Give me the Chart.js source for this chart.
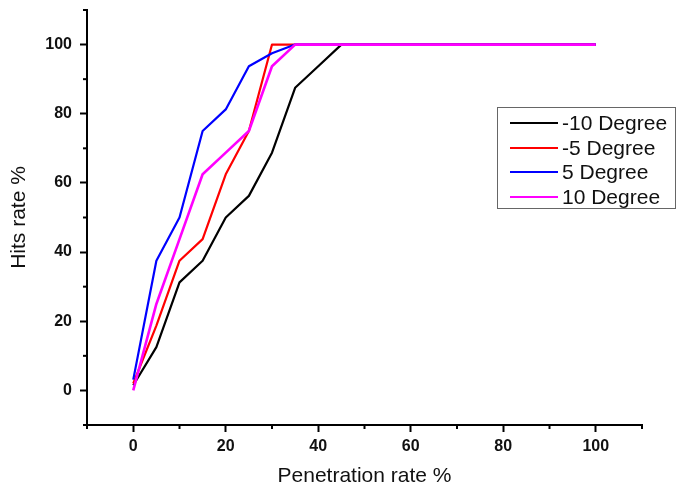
<!DOCTYPE html>
<html>
<head>
<meta charset="utf-8">
<script src="https://cdn.jsdelivr.net/npm/chart.js@4.4.1/dist/chart.umd.min.js"></script>
<style>
  html, body { margin: 0; padding: 0; background: #fff; }
  #wrap { width: 677px; height: 493px; }
</style>
</head>
<body>
<div id="wrap"><canvas id="hitsChart" width="677" height="493"></canvas></div>
<script>
var penetrationRate = [0,5,10,15,20,25,30,35,40,45,50,55,60,65,70,75,80,85,90,95,100];

var hitsMinus10 = [1.5, 12.5, 31.25, 37.5, 50, 56.25, 68.75, 87.5, 93.75, 100, 100, 100, 100, 100, 100, 100, 100, 100, 100, 100, 100];
var hitsMinus5  = [2, 18.75, 37.5, 43.75, 62.5, 75, 100, 100, 100, 100, 100, 100, 100, 100, 100, 100, 100, 100, 100, 100, 100];
var hitsPlus5   = [3.125, 37.5, 50, 75, 81.25, 93.75, 97.5, 100, 100, 100, 100, 100, 100, 100, 100, 100, 100, 100, 100, 100, 100];
var hitsPlus10  = [0, 25, 43.75, 62.5, 68.75, 75, 93.75, 100, 100, 100, 100, 100, 100, 100, 100, 100, 100, 100, 100, 100, 100];

var seriesLabels = ['-10 Degree', '-5 Degree', '5 Degree', '10 Degree'];
var seriesColors = ['#000000', '#ff0000', '#0000ff', '#ff00ff'];
var seriesValues = [hitsMinus10, hitsMinus5, hitsPlus5, hitsPlus10];

// x axis labels at 0..100 every 20, y axis the same
var labelledTicks = [0, 20, 40, 60, 80, 100];

function toPoints(values) {
  return values.map(function (v, i) { return { x: penetrationRate[i], y: v }; });
}

var datasets = seriesValues.map(function (vals, i) {
  return {
    label: seriesLabels[i],
    data: toPoints(vals),
    borderColor: seriesColors[i],
    backgroundColor: seriesColors[i],
    borderWidth: i === seriesValues.length - 1 ? 2.6 : 2.2,
    pointRadius: 0,
    tension: 0,
    fill: false,
    borderJoinStyle: 'round',
    order: seriesValues.length - i   // last series drawn on top
  };
});

function isMajor(v) { return labelledTicks.indexOf(v) !== -1; }

// short minor ticks, drawn through the scales
var minorTicks = {
  id: 'minorTicks',
  afterDraw: function (chart) {
    var ctx = chart.ctx;
    var xs = chart.scales.x, ys = chart.scales.y;
    ctx.save();
    ctx.strokeStyle = '#000';
    ctx.lineWidth = 2;
    xs.ticks.forEach(function (t) {
      if (isMajor(t.value)) return;
      var px = xs.getPixelForValue(t.value);
      ctx.beginPath();
      ctx.moveTo(px, xs.top);
      ctx.lineTo(px, xs.top + 4);
      ctx.stroke();
    });
    ys.ticks.forEach(function (t) {
      if (isMajor(t.value)) return;
      var py = ys.getPixelForValue(t.value);
      ctx.beginPath();
      ctx.moveTo(ys.right, py);
      ctx.lineTo(ys.right - 4, py);
      ctx.stroke();
    });
    ctx.restore();
  }
};

// boxed legend at the right, like the original
var boxLegend = {
  id: 'boxLegend',
  afterDraw: function (chart) {
    var ctx = chart.ctx;
    ctx.save();
    ctx.strokeStyle = '#666';
    ctx.lineWidth = 1;
    ctx.fillStyle = '#fff';
    ctx.fillRect(497, 107, 178, 101);
    ctx.strokeRect(497.5, 107.5, 178, 101);
    ctx.font = '21px "Liberation Sans", Arial, sans-serif';
    ctx.textBaseline = 'middle';
    var rows = [123, 148, 172, 197];
    seriesLabels.forEach(function (lab, i) {
      ctx.strokeStyle = seriesColors[i];
      ctx.lineWidth = 2;
      ctx.beginPath();
      ctx.moveTo(510, rows[i]);
      ctx.lineTo(558, rows[i]);
      ctx.stroke();
      ctx.fillStyle = '#111';
      ctx.fillText(lab, 562, rows[i] + 1);
    });
    ctx.restore();
  }
};

var tickFont = { family: '"Liberation Sans", Arial, sans-serif', size: 16, weight: 'bold' };

var ctx = document.getElementById('hitsChart').getContext('2d');
var hitsChart = new Chart(ctx, {
  type: 'line',
  data: { datasets: datasets },
  plugins: [minorTicks, boxLegend],
  options: {
    responsive: false,
    animation: false,
    layout: { padding: { top: 10, right: 35, left: 0, bottom: 0 } },
    plugins: {
      legend: { display: false },
      tooltip: { enabled: false }
    },
    scales: {
      x: {
        type: 'linear',
        min: -10,
        max: 110,
        border: { display: true, color: '#000', width: 2 },
        grid: {
          drawOnChartArea: false,
          drawTicks: true,
          tickLength: 7,
          tickWidth: 2,
          tickColor: function (c) { return c.tick && isMajor(c.tick.value) ? '#000' : 'rgba(0,0,0,0)'; }
        },
        ticks: {
          stepSize: 10,
          autoSkip: false,
          maxRotation: 0,
          padding: 5,
          color: '#111',
          font: tickFont,
          callback: function (v) { return isMajor(v) ? String(v) : ''; }
        },
        title: {
          display: true,
          text: 'Penetration rate %',
          color: '#111',
          padding: { top: 0, bottom: 4 },
          font: { family: '"Liberation Sans", Arial, sans-serif', size: 21 }
        },
        afterFit: function (scale) {
          scale.height = 68;
          scale.paddingLeft = 0;
          scale.paddingRight = 0;
        }
      },
      y: {
        type: 'linear',
        min: -10,
        max: 110,
        border: { display: true, color: '#000', width: 2 },
        grid: {
          drawOnChartArea: false,
          drawTicks: true,
          tickLength: 7,
          tickWidth: 2,
          tickColor: function (c) { return c.tick && isMajor(c.tick.value) ? '#000' : 'rgba(0,0,0,0)'; }
        },
        ticks: {
          stepSize: 10,
          autoSkip: false,
          padding: 8,
          color: '#111',
          font: tickFont,
          callback: function (v) { return isMajor(v) ? String(v) : ''; }
        },
        title: {
          display: true,
          text: 'Hits rate %',
          color: '#111',
          padding: { top: 7, bottom: 0 },
          font: { family: '"Liberation Sans", Arial, sans-serif', size: 21 }
        },
        afterFit: function (scale) {
          scale.width = 87;
          scale.paddingTop = 0;
          scale.paddingBottom = 0;
        }
      }
    }
  }
});
</script>
</body>
</html>
